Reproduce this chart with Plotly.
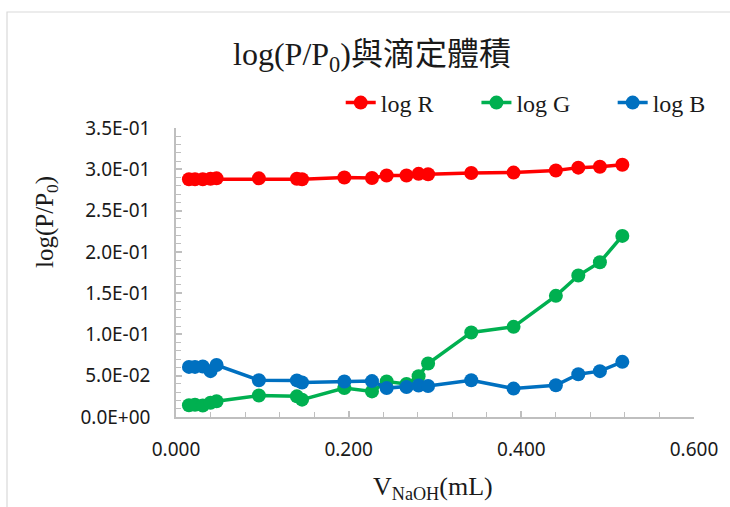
import plotly.graph_objects as go

# Titrant volume (mL) and log(P/P0) for each colour channel
volume_ml = [0.015, 0.022, 0.031, 0.040, 0.047, 0.096, 0.140, 0.146, 0.195, 0.227,
             0.244, 0.267, 0.281, 0.292, 0.342, 0.391, 0.440, 0.466, 0.491, 0.517]
log_r = [0.2880, 0.2880, 0.2880, 0.2885, 0.2890, 0.2890, 0.2885, 0.2880, 0.2900, 0.2895,
         0.2925, 0.2925, 0.2945, 0.2940, 0.2955, 0.2960, 0.2985, 0.3020, 0.3030, 0.3055]
log_g = [0.0142, 0.0148, 0.0140, 0.0172, 0.0190, 0.0260, 0.0250, 0.0210, 0.0350, 0.0310,
         0.0430, 0.0400, 0.0495, 0.0648, 0.1024, 0.1092, 0.1467, 0.1713, 0.1874, 0.2193]
log_b = [0.0607, 0.0607, 0.0612, 0.0555, 0.0630, 0.0445, 0.0443, 0.0417, 0.0430, 0.0435,
         0.0350, 0.0364, 0.0382, 0.0376, 0.0445, 0.0344, 0.0385, 0.0518, 0.0555, 0.0668]

series_names = ["log R", "log G", "log B"]
series_colors = ["#FF0000", "#00B050", "#0070C0"]

y_tick_values = [0.0, 0.05, 0.10, 0.15, 0.20, 0.25, 0.30, 0.35]
y_tick_labels = [f"{v:.1E}" for v in y_tick_values]

SERIF = "'Liberation Serif', 'Times New Roman', 'Noto Sans CJK TC', serif"
SANS = "'Noto Sans', 'Open Sans', sans-serif"
AXIS_GRAY = "#bfbfbf"
TEXT = "#1a1a1a"

# one single-entry legend per series so each key sits in its own slot
legend_ids = ["legend", "legend2", "legend3"]
legend_x = [0.318, 0.580, 0.843]

fig = go.Figure()
for name, values, color, lg in zip(series_names, [log_r, log_g, log_b], series_colors, legend_ids):
    fig.add_trace(go.Scatter(
        x=volume_ml, y=values, name=name, mode="lines+markers",
        line=dict(color=color, width=3.5),
        marker=dict(color=color, size=14),
        legend=lg, showlegend=True,
    ))

legend_style = dict(
    orientation="h", xanchor="left", y=1.0865, yanchor="middle",
    font=dict(family=SERIF, size=24, color=TEXT),
    bgcolor="rgba(0,0,0,0)", itemclick=False, itemdoubleclick=False,
)
legend_layout = {lg: dict(legend_style, x=lx) for lg, lx in zip(legend_ids, legend_x)}

fig.update_layout(
    width=730, height=507,
    showlegend=True,
    margin=dict(l=176, r=36, t=128, b=90),
    paper_bgcolor="white", plot_bgcolor="white",
    title=dict(
        text="log(P/P<sub>0</sub>)與滴定體積",
        font=dict(family=SERIF, size=32, color=TEXT),
        x=372 / 730, xanchor="center", xref="container",
        y=(507 - 54) / 507, yanchor="middle", yref="container",
    ),
    xaxis=dict(
        range=[0, 0.6], dtick=0.2, tick0=0, tickformat=".3f",
        showgrid=False, zeroline=False, showline=True,
        linecolor=AXIS_GRAY, linewidth=1.5,
        ticks="inside", ticklen=6, tickcolor=AXIS_GRAY, tickwidth=1.5,
        minor=dict(dtick=0.04, ticks="inside", ticklen=5, tickcolor=AXIS_GRAY, tickwidth=1.2),
        tickfont=dict(family=SANS, size=19, color=TEXT),
        ticklabelstandoff=14,
    ),
    yaxis=dict(
        range=[0, 0.35], tickvals=y_tick_values, ticktext=y_tick_labels,
        showgrid=False, zeroline=False, showline=True,
        linecolor=AXIS_GRAY, linewidth=1.5,
        ticks="inside", ticklen=6, tickcolor=AXIS_GRAY, tickwidth=1.5,
        minor=dict(dtick=0.01, ticks="inside", ticklen=5, tickcolor=AXIS_GRAY, tickwidth=1.2),
        tickfont=dict(family=SANS, size=19, color=TEXT),
        ticklabelstandoff=20,
    ),
    annotations=[
        dict(text="V<sub>NaOH</sub>(mL)", xref="paper", yref="paper",
             x=0.496, y=-0.246, xanchor="center", yanchor="middle", showarrow=False,
             font=dict(family=SERIF, size=26, color=TEXT)),
        dict(text="log(P/P<sub>0</sub>)", xref="paper", yref="paper",
             x=-0.249, y=0.675, xanchor="center", yanchor="middle", showarrow=False,
             textangle=-90, font=dict(family=SERIF, size=25, color=TEXT)),
    ],
    shapes=[
        # chart-area outline
        dict(type="rect", xref="paper", yref="paper",
             x0=(7 - 176) / 518, x1=2.0, y0=-1.0, y1=(417 - 12) / 289,
             line=dict(color="#d9d9d9", width=1.2), fillcolor="rgba(0,0,0,0)", layer="below"),
    ],
    **legend_layout,
)

fig.write_html("out.html")
